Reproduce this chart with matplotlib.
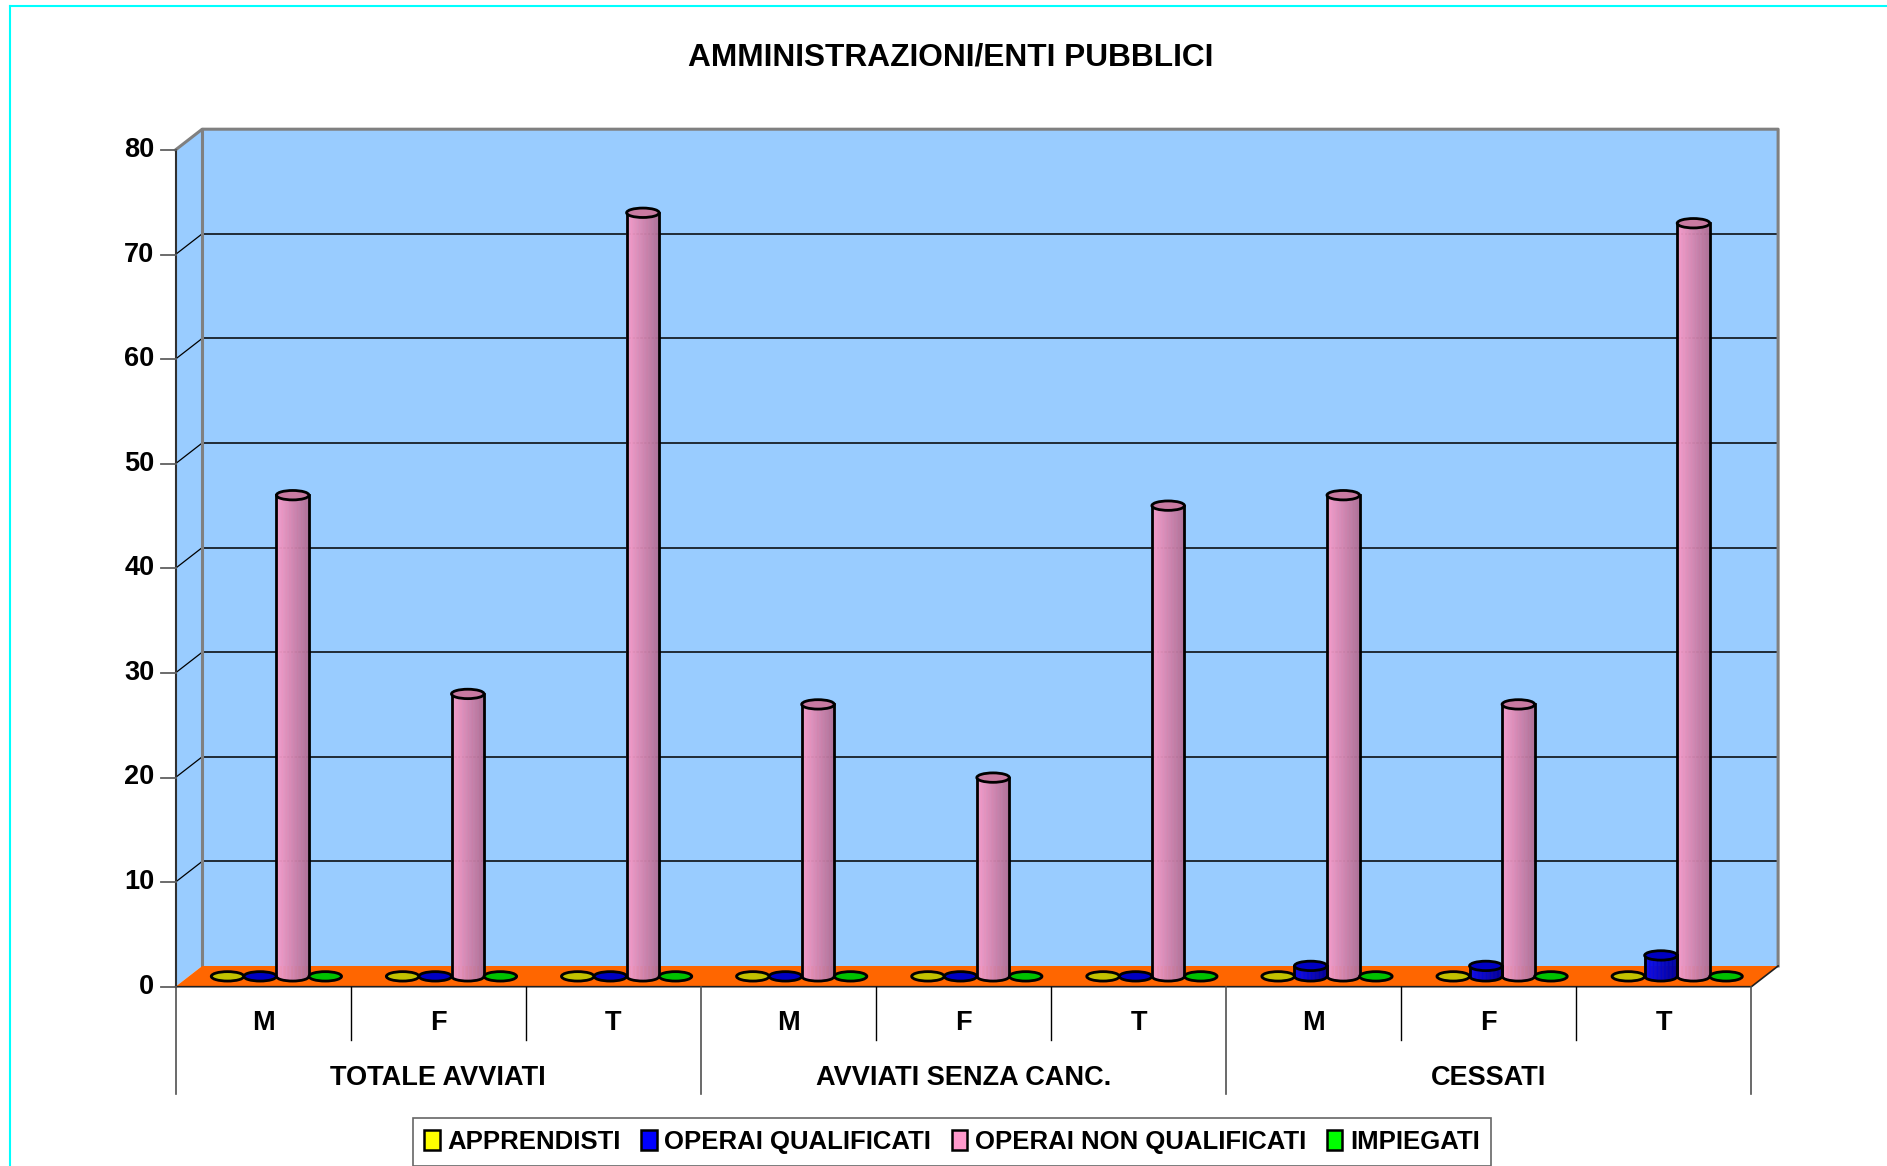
"""
3D-style cylinder chart: AMMINISTRAZIONI/ENTI PUBBLICI.
"""

import numpy as np
import matplotlib
matplotlib.use("Agg")
import matplotlib.pyplot as plt
from matplotlib.patches import Ellipse, Arc, Polygon, Patch
from matplotlib.lines import Line2D

# data
groups = ["TOTALE AVVIATI", "AVVIATI SENZA CANC.", "CESSATI"]
sexes = ["M", "F", "T"]
series_names = ["APPRENDISTI", "OPERAI QUALIFICATI", "OPERAI NON QUALIFICATI", "IMPIEGATI"]
apprendisti = [0, 0, 0, 0, 0, 0, 0, 0, 0]
operai_qualificati = [0, 0, 0, 0, 0, 0, 1, 1, 2]
operai_non_qualificati = [46, 27, 73, 26, 19, 45, 46, 26, 72]
impiegati = [0, 0, 0, 0, 0, 0, 0, 0, 0]
y_ticks = [0, 10, 20, 30, 40, 50, 60, 70, 80]

legend_colors = ["#FFFF00", "#0000FF", "#FF99CC", "#00FF00"]
# (left of body, right of body, top face)
shades = [
    ((0.95, 0.95, 0.10), (0.68, 0.68, 0.00), (0.76, 0.76, 0.00)),
    ((0.05, 0.05, 0.95), (0.00, 0.00, 0.60), (0.00, 0.00, 0.76)),
    ((0.97, 0.62, 0.80), (0.69, 0.44, 0.59), (0.79, 0.48, 0.63)),
    ((0.10, 0.95, 0.10), (0.00, 0.66, 0.00), (0.00, 0.76, 0.00)),
]

WALL = "#99CCFF"
FLOOR = "#FF6600"
EDGE = "#808080"

plt.rcParams["font.family"] = ["Liberation Sans", "DejaVu Sans"]
plt.rcParams["font.weight"] = "bold"

W, H = 1887, 1166
fig = plt.figure(figsize=(W / 100, H / 100), dpi=100)
ax = fig.add_axes([0, 0, 1, 1])
ax.axis("off")

# pixel layout of the plot -> data limits
x0_px, cat_px = 175.5, 175.1
y0_px, unit_px = 986.7, 10.46
ax.set_xlim(-x0_px / cat_px, (W - x0_px) / cat_px)
ax.set_ylim(-(H - y0_px) / unit_px, y0_px / unit_px)

n_cat = len(operai_non_qualificati)
ymax = y_ticks[-1]
dx, dy = 26.7 / cat_px, 20.7 / unit_px

# side wall, back wall, floor
ax.add_patch(Polygon([(0, 0), (0, ymax), (dx, ymax + dy), (dx, dy)],
                     facecolor=WALL, edgecolor="none", zorder=1))
ax.add_patch(Polygon([(dx, dy), (dx, ymax + dy), (n_cat + dx, ymax + dy), (n_cat + dx, dy)],
                     facecolor=WALL, edgecolor="none", zorder=1))
for t in y_ticks[1:-1]:
    ax.plot([dx, n_cat + dx], [t + dy, t + dy], color="black", lw=1.1, zorder=2)
    ax.plot([0, dx], [t, t + dy], color="black", lw=0.9, zorder=2)
ax.plot([0, dx, n_cat + dx, n_cat + dx], [ymax, ymax + dy, ymax + dy, dy],
        color=EDGE, lw=2.2, zorder=3)
ax.plot([dx, dx], [dy, ymax + dy], color=EDGE, lw=2.2, zorder=3)
ax.add_patch(Polygon([(0, 0), (n_cat, 0), (n_cat + dx, dy), (dx, dy)],
                     facecolor=FLOOR, edgecolor="none", zorder=3))
ax.plot([0, n_cat, n_cat + dx], [0, 0, dy], color="#202020", lw=1.2, zorder=4)
ax.plot([0, 0], [0, ymax], color="#303030", lw=1.5, zorder=4)

# value axis ticks
for t in y_ticks:
    ax.plot([-0.083, 0], [t, t], color="#606060", lw=1.3, zorder=4)
    ax.text(-0.12, t, str(t), ha="right", va="center", fontsize=19.5, fontweight="bold")

# category axis
for i in range(n_cat + 1):
    if i % 3 == 0:
        ax.plot([i, i], [0, -10.26], color="#505050", lw=1.2, zorder=4)
    else:
        ax.plot([i, i], [0, -5.14], color="black", lw=1.0, zorder=4)
for i in range(n_cat):
    ax.text(i + 0.5, -3.47, sexes[i % 3], ha="center", va="center",
            fontsize=19.5, fontweight="bold")
for g, name in enumerate(groups):
    ax.text(g * 3 + 1.5, -8.75, name, ha="center", va="center",
            fontsize=19.5, fontweight="bold")


def draw_cylinder(xc, value, shade, w, eh, base):
    """Draw one shaded cylinder standing on the floor."""
    left, right, top_c = shade
    top = base + value
    if value > 0:
        n = 24
        edges = np.linspace(xc - w / 2, xc + w / 2, n + 1)
        for k in range(n):
            xa, xb = edges[k], edges[k + 1]
            f = (k + 0.5) / n
            col = tuple(np.array(left) * (1 - f) + np.array(right) * f)
            ya = base - eh / 2 * np.sqrt(max(0.0, 1 - ((xa - xc) / (w / 2)) ** 2))
            yb = base - eh / 2 * np.sqrt(max(0.0, 1 - ((xb - xc) / (w / 2)) ** 2))
            ax.add_patch(Polygon([(xa, top), (xb, top), (xb, yb), (xa, ya)],
                                 facecolor=col, edgecolor=col, lw=0.4, zorder=5))
        ax.plot([xc - w / 2, xc - w / 2], [base, top], color="black", lw=2, zorder=6)
        ax.plot([xc + w / 2, xc + w / 2], [base, top], color="black", lw=2, zorder=6)
        ax.add_patch(Arc((xc, base), w, eh, theta1=180, theta2=360,
                         color="black", lw=2, zorder=6))
    ax.add_patch(Ellipse((xc, top), w, eh, facecolor=top_c, edgecolor="black",
                         lw=2, zorder=6))


all_series = [apprendisti, operai_qualificati, operai_non_qualificati, impiegati]
step = 0.186
for i in range(n_cat):
    center = i + 0.5 + dx / 2
    for s, vals in enumerate(all_series):
        xc = center + (s - 1.5) * step
        draw_cylinder(xc, vals[i], shades[s], step, 0.9, dy / 2)

# title
fig.text(951 / W, 1 - 58 / H, "AMMINISTRAZIONI/ENTI PUBBLICI", ha="center", va="center",
         fontsize=22.8, fontweight="bold")

# legend
handles = [Patch(facecolor=c, edgecolor="black", lw=1.8) for c in legend_colors]
leg = fig.legend(handles, series_names, loc="center", bbox_to_anchor=(952 / W, 1 - 1142 / H),
                 ncol=4, frameon=True, fancybox=False, edgecolor="#404040",
                 prop={"size": 18.5, "weight": "bold"}, handlelength=0.6, handleheight=0.85,
                 handletextpad=0.3, columnspacing=0.8, borderpad=0.45, borderaxespad=0)
leg.get_frame().set_linewidth(1.2)

# cyan border of the sheet
fig.add_artist(Line2D([10 / W, 10 / W], [0, 1 - 6 / H], color="#00FFFF", lw=1.5))
fig.add_artist(Line2D([10 / W, 1], [1 - 6 / H, 1 - 6 / H], color="#00FFFF", lw=1.5))

fig.savefig("out.png", dpi=100)
